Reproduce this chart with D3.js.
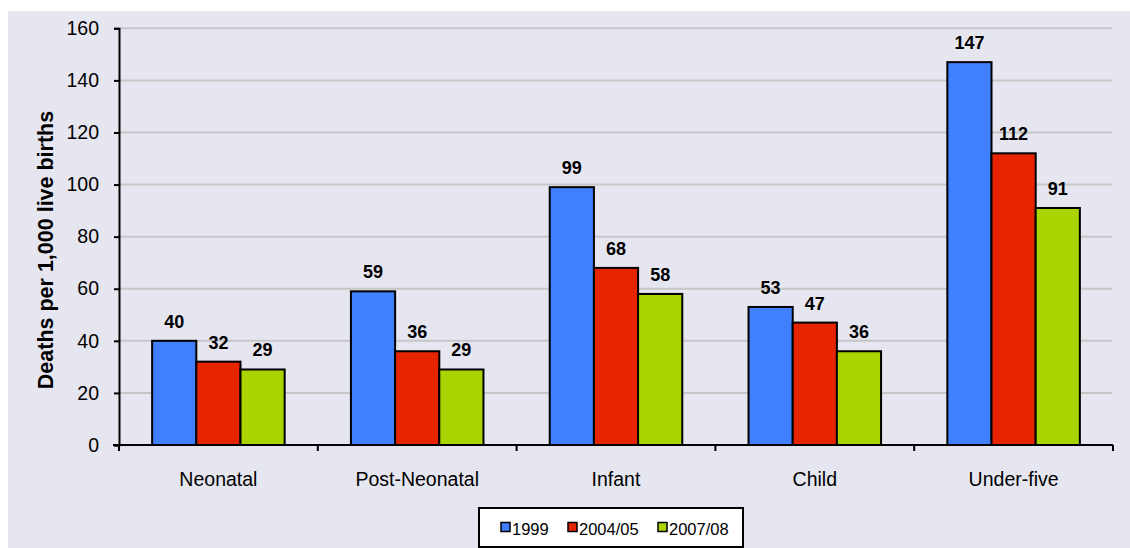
<!DOCTYPE html>
<html>
<head>
<meta charset="utf-8">
<script src="https://cdn.jsdelivr.net/npm/d3@7"></script>
<style>
  html, body { margin: 0; padding: 0; background: #ffffff; }
  svg { display: block; font-family: "Liberation Sans", Arial, sans-serif; }
</style>
</head>
<body>
<svg id="chart" width="1130" height="548"></svg>
<script>
// Childhood mortality rates by survey period
const categories = ["Neonatal", "Post-Neonatal", "Infant", "Child", "Under-five"];
const seriesNames = ["1999", "2004/05", "2007/08"];
const values1999 = [40, 59, 99, 53, 147];
const values2004 = [32, 36, 68, 47, 112];
const values2007 = [29, 29, 58, 36, 91];
const yTicks = [0, 20, 40, 60, 80, 100, 120, 140, 160];
const colors = ["#4080ff", "#e62400", "#aad400"];

const series = [values1999, values2004, values2007];

const svg = d3.select("#chart");
const W = 1130, H = 548;

// panel background
svg.append("rect")
  .attr("x", 8).attr("y", 11)
  .attr("width", W - 8).attr("height", H - 11)
  .attr("fill", "#e6e6f1");

const plotLeft = 119, plotRight = 1113, plotTop = 28.3, plotBottom = 445;

const x0 = d3.scaleBand().domain(categories).range([plotLeft, plotRight]).paddingInner(0).paddingOuter(0);
const x1 = d3.scaleBand().domain(seriesNames).range([0, x0.bandwidth()]).paddingOuter(0.75).paddingInner(0);
const y = d3.scaleLinear().domain([0, 160]).range([plotBottom, plotTop]);

// gridlines
svg.append("g")
  .selectAll("line")
  .data(yTicks.filter(d => d > 0))
  .join("line")
  .attr("x1", plotLeft).attr("x2", plotRight - 1)
  .attr("y1", d => y(d)).attr("y2", d => y(d))
  .attr("stroke", "#c6c6c6")
  .attr("stroke-width", 2);

// bars
const groups = svg.append("g")
  .selectAll("g")
  .data(categories)
  .join("g")
  .attr("transform", d => `translate(${x0(d)},0)`);

groups.selectAll("rect")
  .data((c, i) => seriesNames.map((s, j) => ({ s, j, v: series[j][i] })))
  .join("rect")
  .attr("x", d => x1(d.s))
  .attr("y", d => y(d.v))
  .attr("width", x1.bandwidth())
  .attr("height", d => y(0) - y(d.v))
  .attr("fill", d => colors[d.j])
  .attr("stroke", "#000")
  .attr("stroke-width", 2);

// value labels
groups.selectAll("text")
  .data((c, i) => seriesNames.map((s, j) => ({ s, j, v: series[j][i] })))
  .join("text")
  .attr("x", d => x1(d.s) + x1.bandwidth() / 2)
  .attr("y", d => y(d.v) - 13)
  .attr("text-anchor", "middle")
  .attr("font-weight", "bold")
  .attr("font-size", "18px")
  .attr("fill", "#000")
  .text(d => d.v);

// y axis
const yAxis = svg.append("g")
  .attr("transform", `translate(${plotLeft},0)`)
  .call(d3.axisLeft(y).tickValues(yTicks).tickSize(5).tickPadding(15));
yAxis.select(".domain").attr("stroke", "#000").attr("stroke-width", 2);
yAxis.selectAll(".tick line").attr("stroke", "#000").attr("stroke-width", 2);
yAxis.selectAll(".tick text")
  .attr("font-size", "19.5px")
  .attr("font-family", "Liberation Sans, Arial, sans-serif")
  .attr("fill", "#000");

// x axis with boundary ticks
const xAxisG = svg.append("g");
xAxisG.append("line")
  .attr("x1", plotLeft - 6).attr("x2", plotRight)
  .attr("y1", plotBottom).attr("y2", plotBottom)
  .attr("stroke", "#000").attr("stroke-width", 2);
const boundaries = categories.map(c => x0(c)).concat([x0(categories[categories.length - 1]) + x0.bandwidth()]);
xAxisG.selectAll("line.b")
  .data(boundaries)
  .join("line")
  .attr("class", "b")
  .attr("x1", d => d).attr("x2", d => d)
  .attr("y1", plotBottom).attr("y2", plotBottom + 6)
  .attr("stroke", "#000").attr("stroke-width", 2);
xAxisG.selectAll("text")
  .data(categories)
  .join("text")
  .attr("x", d => x0(d) + x0.bandwidth() / 2)
  .attr("y", 486)
  .attr("text-anchor", "middle")
  .attr("font-size", "19.5px")
  .attr("fill", "#000")
  .text(d => d);

// y axis title
svg.append("text")
  .attr("transform", "translate(53,250) rotate(-90)")
  .attr("text-anchor", "middle")
  .attr("font-weight", "bold")
  .attr("font-size", "21.5px")
  .attr("fill", "#000")
  .text("Deaths per 1,000 live births");

// legend
const legend = svg.append("g");
legend.append("rect")
  .attr("x", 479).attr("y", 508)
  .attr("width", 264).attr("height", 39)
  .attr("fill", "#fff")
  .attr("stroke", "#000")
  .attr("stroke-width", 2);
const legendX = [501, 568, 658];
seriesNames.forEach((s, j) => {
  legend.append("rect")
    .attr("x", legendX[j]).attr("y", 522.5)
    .attr("width", 9).attr("height", 9)
    .attr("fill", colors[j])
    .attr("stroke", "#000")
    .attr("stroke-width", 1.5);
  legend.append("text")
    .attr("x", legendX[j] + 11)
    .attr("y", 535)
    .attr("font-size", "16.5px")
    .attr("fill", "#000")
    .text(s);
});
</script>
</body>
</html>
